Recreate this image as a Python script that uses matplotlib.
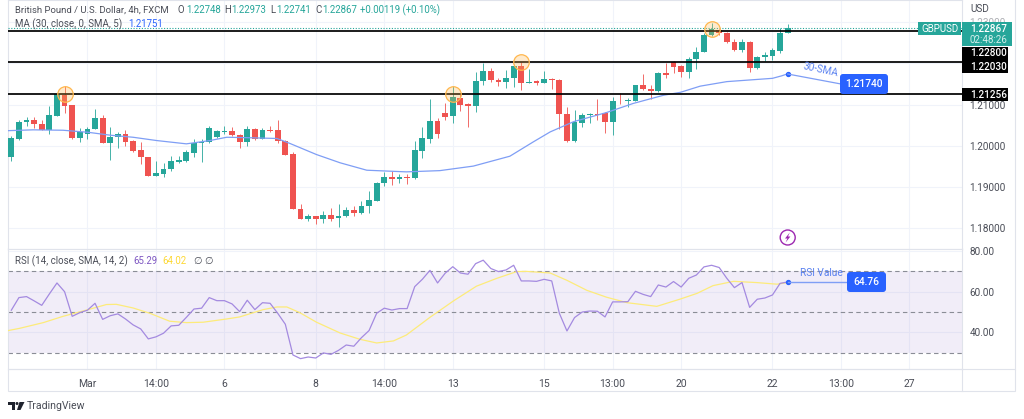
import matplotlib
matplotlib.use('Agg')
import matplotlib.pyplot as plt
from matplotlib.patches import Circle, FancyBboxPatch, Rectangle, Polygon

plt.rcParams['font.family'] = ['Roboto', 'DejaVu Sans']

opens = [1.1972, 1.2017, 1.2057, 1.2062, 1.2052, 1.2039, 1.2073, 1.2123, 1.2099, 1.2019, 1.2030, 1.2041, 1.2068, 1.2007, 1.2021,
         1.2028, 1.2011, 1.1989, 1.1973, 1.1928, 1.1933, 1.1943, 1.1962, 1.1964, 1.1983, 1.2008, 1.2009, 1.2021, 1.2034, 1.2035,
         1.2027, 1.2009, 1.2041, 1.2017, 1.2038, 1.2038, 1.2012, 1.1981, 1.1848, 1.1823, 1.1830, 1.1822, 1.1833, 1.1824, 1.1830,
         1.1844, 1.1836, 1.1854, 1.1867, 1.1911, 1.1924, 1.1920, 1.1924, 1.1923, 1.1988, 1.2017, 1.2060, 1.2080, 1.2072, 1.2117,
         1.2101, 1.2097, 1.2157, 1.2181, 1.2161, 1.2155, 1.2165, 1.2193, 1.2153, 1.2157, 1.2153, 1.2163, 1.2160, 1.2077, 1.2011,
         1.2056, 1.2074, 1.2077, 1.2079, 1.2058, 1.2110, 1.2110, 1.2110, 1.2148, 1.2138, 1.2134, 1.2178, 1.2203, 1.2194, 1.2180,
         1.2211, 1.2229, 1.2268, 1.2281, 1.2275, 1.2253, 1.2232, 1.2252, 1.2189, 1.2215, 1.2219, 1.2230, 1.2274]
closes = [1.2018, 1.2059, 1.2063, 1.2052, 1.2039, 1.2074, 1.2125, 1.2098, 1.2019, 1.2033, 1.2041, 1.2068, 1.2008, 1.2021, 1.2028,
          1.2009, 1.1988, 1.1972, 1.1928, 1.1934, 1.1944, 1.1963, 1.1965, 1.1984, 1.2007, 1.2009, 1.2043, 1.2036, 1.2036, 1.2027,
          1.2009, 1.2041, 1.2017, 1.2038, 1.2035, 1.2011, 1.1979, 1.1848, 1.1823, 1.1830, 1.1822, 1.1833, 1.1823, 1.1831, 1.1844,
          1.1836, 1.1855, 1.1869, 1.1911, 1.1924, 1.1920, 1.1924, 1.1923, 1.1989, 1.2018, 1.2060, 1.2030, 1.2071, 1.2118, 1.2099,
          1.2098, 1.2157, 1.2181, 1.2160, 1.2156, 1.2165, 1.2193, 1.2153, 1.2155, 1.2153, 1.2163, 1.2160, 1.2077, 1.2011, 1.2057,
          1.2074, 1.2077, 1.2075, 1.2058, 1.2110, 1.2108, 1.2112, 1.2148, 1.2137, 1.2134, 1.2178, 1.2172, 1.2192, 1.2180, 1.2212,
          1.2229, 1.2269, 1.2283, 1.2275, 1.2251, 1.2233, 1.2251, 1.2190, 1.2216, 1.2220, 1.2232, 1.2275, 1.2287]
highs = [1.2024, 1.2063, 1.2069, 1.2069, 1.2062, 1.2098, 1.2125, 1.2145, 1.2100, 1.2043, 1.2047, 1.2089, 1.2074, 1.2045, 1.2034,
         1.2038, 1.2014, 1.2010, 1.1974, 1.1963, 1.1958, 1.1975, 1.1975, 1.1990, 1.2017, 1.2016, 1.2049, 1.2038, 1.2049, 1.2045,
         1.2030, 1.2049, 1.2043, 1.2043, 1.2049, 1.2064, 1.2014, 1.1986, 1.1858, 1.1835, 1.1831, 1.1842, 1.1849, 1.1859, 1.1851,
         1.1855, 1.1866, 1.1890, 1.1913, 1.1937, 1.1940, 1.1933, 1.1933, 1.2011, 1.2047, 1.2114, 1.2067, 1.2104, 1.2145, 1.2127,
         1.2104, 1.2180, 1.2202, 1.2188, 1.2164, 1.2184, 1.2199, 1.2203, 1.2186, 1.2160, 1.2182, 1.2164, 1.2162, 1.2094, 1.2087,
         1.2081, 1.2081, 1.2114, 1.2082, 1.2119, 1.2129, 1.2117, 1.2149, 1.2175, 1.2148, 1.2179, 1.2200, 1.2205, 1.2196, 1.2215,
         1.2241, 1.2273, 1.2299, 1.2283, 1.2276, 1.2259, 1.2259, 1.2254, 1.2219, 1.2228, 1.2238, 1.2285, 1.2297]
lows = [1.1964, 1.2014, 1.2048, 1.2043, 1.2038, 1.2029, 1.2073, 1.2081, 1.2016, 1.2010, 1.2017, 1.2040, 1.2008, 1.1966, 1.1994,
        1.2000, 1.1986, 1.1957, 1.1927, 1.1927, 1.1925, 1.1940, 1.1959, 1.1962, 1.1974, 1.1962, 1.2008, 1.2019, 1.2028, 1.2024,
        1.1994, 1.1999, 1.2014, 1.2016, 1.2033, 1.2006, 1.1977, 1.1847, 1.1822, 1.1817, 1.1811, 1.1813, 1.1818, 1.1804, 1.1827,
        1.1831, 1.1835, 1.1838, 1.1866, 1.1903, 1.1904, 1.1911, 1.1908, 1.1920, 1.1971, 1.2008, 1.2020, 1.2064, 1.2056, 1.2085,
        1.2047, 1.2083, 1.2147, 1.2155, 1.2145, 1.2141, 1.2142, 1.2136, 1.2152, 1.2147, 1.2152, 1.2139, 1.2042, 1.2010, 1.2010,
        1.2047, 1.2055, 1.2063, 1.2032, 1.2026, 1.2102, 1.2095, 1.2108, 1.2136, 1.2114, 1.2132, 1.2166, 1.2178, 1.2168, 1.2166,
        1.2187, 1.2228, 1.2267, 1.2269, 1.2249, 1.2231, 1.2229, 1.2180, 1.2187, 1.2207, 1.2208, 1.2225, 1.2273]

sma_idx = [-0.4, 2.9, 6.8, 10.1, 13, 16, 19.1, 23, 26.1, 28.3, 30.9, 34.9, 36.6, 40.1, 43.2, 46.7, 51.9, 56.3, 60.7, 65.5,
           68.6, 70.8, 73.9, 78.2, 81.7, 85.7, 87.9, 90.5, 94, 100, 101.2, 102]
sma_vals = [1.2037, 1.2039, 1.2038, 1.2033, 1.2026, 1.2021, 1.2013, 1.2005, 1.2013, 1.2021, 1.2020, 1.2018, 1.2006, 1.1979,
            1.1959, 1.1941, 1.1937, 1.1940, 1.1951, 1.1975, 1.2010, 1.2034, 1.2059, 1.2081, 1.2103, 1.2123, 1.2130, 1.2145,
            1.2156, 1.2164, 1.2170, 1.2175]

rsi_vals = [50.9, 57.1, 57.6, 55.5, 53.3, 58.9, 64.3, 60.0, 47.9, 49.7, 50.9, 54.3, 46.4, 48.2, 49.1, 46.6, 43.7, 41.7, 36.8,
            37.8, 39.6, 43.2, 43.5, 47.4, 51.5, 51.9, 57.1, 55.6, 55.6, 54.0, 50.2, 55.8, 51.2, 54.6, 54.3, 49.4, 44.0, 28.9,
            27.1, 27.9, 27.4, 29.9, 29.2, 31.2, 33.8, 33.2, 37.4, 40.9, 49.4, 51.9, 51.0, 51.7, 51.7, 62.5, 66.1, 70.5, 64.3,
            69.1, 72.3, 69.2, 68.6, 73.8, 75.5, 71.4, 69.9, 70.7, 73.0, 65.3, 65.3, 65.1, 66.1, 65.3, 49.4, 40.7, 47.3, 50.0,
            50.5, 50.4, 47.6, 55.0, 55.0, 55.1, 60.2, 58.7, 57.6, 63.3, 62.3, 65.0, 62.3, 66.6, 68.2, 72.2, 73.0, 71.9, 66.6,
            62.0, 64.5, 52.3, 56.3, 56.9, 58.4, 64.1, 64.8]
rsi_ma_idx = [-0.4, 1.1, 4.2, 6.8, 9.9, 12.5, 13.8, 16, 18.2, 20.8, 23, 25.2, 28.3, 30, 33.1, 34.9, 36.2, 37.9, 40.1, 43.2,
              45.8, 48, 50.2, 51.9, 55, 58.1, 61.1, 63.8, 66.4, 67.7, 70.8, 73, 75.6, 78.2, 80.9, 84.8, 87.9, 90.1, 92.2,
              94.9, 97.9, 100.6, 102]
rsi_ma_vals = [40.9, 42.0, 44.8, 47.9, 51.0, 53.7, 53.8, 52.0, 49.4, 45.5, 44.8, 45.0, 46.6, 47.6, 51.2, 52.5, 52.5, 49.7,
               45.0, 39.7, 36.6, 34.8, 35.8, 38.7, 47.4, 55.5, 62.7, 66.6, 69.9, 70.0, 69.2, 65.6, 60.7, 57.3, 54.6, 52.8,
               56.4, 59.2, 63.0, 65.1, 64.5, 63.7, 64.5]

levels = [1.22800, 1.22030, 1.21256]
touch_idx = [7.06, 58.03, 66.98, 92.0]
touch_price = [1.2126, 1.2126, 1.2203, 1.2284]
last_price = 1.22867
price_ticks = [1.18, 1.19, 1.20, 1.21, 1.22, 1.23]
price_labels = ['1.18000', '1.19000', '1.20000', '1.21000', '', '1.23000']
rsi_ticks = [40, 60, 80]
rsi_bands = [70, 50, 30]
time_idx = [10, 19, 28, 40, 49, 58, 70, 79, 88, 100, 109, 118]
time_labels = ['Mar', '14:00', '6', '8', '14:00', '13', '15', '13:00', '20', '22', '13:00', '27']

GREEN = '#26a69a'
RED = '#ef5350'
BLUE = '#2962ff'
LINE_BLUE = '#7f9ef5'
GRID = '#f0f3fa'
BORDER = '#e0e3eb'
TXT = '#4a4d57'
W, H = 1024, 419


def pane(left, top, right, bottom):
    return fig.add_axes([left / W, 1 - bottom / H, (right - left) / W, (bottom - top) / H])


fig = plt.figure(figsize=(W / 100, H / 100), dpi=100, facecolor='white')
ax = pane(8, 0, 962, 249)
ax_rsi = pane(8, 249, 962, 369)
xlim = (-0.434, 124.9)

for a in (ax, ax_rsi):
    a.set_xlim(*xlim)
    a.set_xticks(time_idx)
    a.grid(True, color=GRID, lw=0.8)
    a.set_axisbelow(True)
    a.yaxis.tick_right()
    a.tick_params(length=0, labelsize=7.2, labelcolor=TXT, pad=5.5)
    for s in a.spines.values():
        s.set_color(BORDER)
        s.set_linewidth(0.8)

# candles
ax.set_ylim(1.17498, 1.23541)
ax.set_yticks(price_ticks)
ax.set_yticklabels(price_labels)
ax.get_yticklabels()[-1].set_alpha(0.45)
ax.tick_params(labelbottom=False)
for i in range(len(opens)):
    col = GREEN if closes[i] >= opens[i] else RED
    ax.vlines(i, lows[i], highs[i], color=col, lw=0.6, zorder=3)
    ax.bar(i, abs(closes[i] - opens[i]), bottom=min(opens[i], closes[i]), width=0.76, color=col, zorder=4)

ax.plot(sma_idx, sma_vals, color=LINE_BLUE, lw=0.9, zorder=5)
ax.hlines(levels, xlim[0], xlim[1], color='black', lw=1.25, zorder=6)
ax.axhline(last_price, color=GREEN, lw=0.8, ls=(0, (1, 1.5)), zorder=6)
ax.scatter(touch_idx, touch_price, s=125, facecolor='#ffb74d48', edgecolor='#ffb74d', lw=0.9, zorder=7)
ax.scatter([102], [sma_vals[-1]], s=8, color=BLUE, zorder=8)

# rsi pane
ax_rsi.set_ylim(22.0, 81.0)
ax_rsi.set_yticks(rsi_ticks)
ax_rsi.set_yticklabels(['%.2f' % v for v in rsi_ticks])
ax_rsi.set_xticklabels(time_labels)
ax_rsi.tick_params(axis='x', pad=7, labelsize=7.5)
ax_rsi.axhspan(rsi_bands[2], rsi_bands[0], color='#7e57c2', alpha=0.1, lw=0)
ax_rsi.hlines(rsi_bands, xlim[0], xlim[1], color='#8a8d96', lw=0.8, ls=(0, (4, 3)))
ax_rsi.plot(rsi_ma_idx, rsi_ma_vals, color='#fdeb7a', lw=0.9, zorder=4)
ax_rsi.plot(range(len(rsi_vals)), rsi_vals, color='#a48ae0', lw=0.9, zorder=5)
ax_rsi.scatter([102], [rsi_vals[-1]], s=8, color=BLUE, zorder=6)

# overlay for labels, in pixels
ov = fig.add_axes([0, 0, 1, 1], facecolor='none')
ov.set_xlim(0, W)
ov.set_ylim(H, 0)
ov.axis('off')
ov.add_patch(Rectangle((8, 369), 1007, 22, fc='none', ec=BORDER, lw=0.8))
ov.plot([1015, 1015], [0, 369], color=BORDER, lw=0.8)
ov.plot([962, 962], [369, 391], color=BORDER, lw=0.8)

ov.text(15, 10, 'British Pound / U.S. Dollar, 4h, FXCM', color=TXT, fontsize=6.8, va='center')
hdr = [(178, 'O', TXT), (186, '1.22748', GREEN), (224, 'H', TXT), (231, '1.22973', GREEN), (270, 'L', TXT),
       (276, '1.22741', GREEN), (315, 'C', TXT), (322, '1.22867', GREEN), (360, '+0.00119 (+0.10%)', GREEN)]
for x, s, c in hdr:
    ov.text(x, 10, s, color=c, fontsize=6.9, va='center')
ov.text(15, 24, 'MA (30, close, 0, SMA, 5)', color=TXT, fontsize=7.0, va='center')
ov.text(128, 24, '1.21751', color=BLUE, fontsize=6.9, va='center')
ov.text(15, 261, 'RSI (14, close, SMA, 14, 2)', color=TXT, fontsize=7.0, va='center')
ov.text(133, 261, '65.29', color='#7e57c2', fontsize=6.9, va='center')
ov.text(162, 261, '64.02', color='#fdd835', fontsize=6.9, va='center')
ov.text(193, 261, '\u2205', color=TXT, fontsize=7, va='center', family='DejaVu Sans')
ov.text(204, 261, '\u2205', color=TXT, fontsize=7, va='center', family='DejaVu Sans')
ov.text(970, 9, 'USD', color=TXT, fontsize=7.2, va='center')

# price labels on the right
ov.add_patch(Rectangle((918, 22), 43, 13, fc=GREEN, ec='none', zorder=5))
ov.text(939.5, 29, 'GBPUSD', color='white', fontsize=7.0, ha='center', va='center', zorder=6)
ov.add_patch(Rectangle((962, 22), 50, 24, fc=GREEN, ec='none', zorder=5))
ov.text(970, 29, '1.22867', color='white', fontsize=7.2, va='center', fontweight='medium', zorder=6)
ov.text(970, 40, '02:48:26', color='#d5efec', fontsize=7.0, va='center', zorder=6)
for y0, y1, s in [(47, 60, '1.22800'), (60, 73, '1.22030'), (88, 101, '1.21256')]:
    ov.add_patch(Rectangle((962, y0), 46, y1 - y0, fc='black', ec='none', zorder=5))
    ov.text(970, (y0 + y1) / 2, s, color='white', fontsize=7.2, va='center', fontweight='medium', zorder=6)

# callouts
ov.plot([787.7, 841], [74, 84], color=LINE_BLUE, lw=0.9, zorder=4)
ov.text(821, 70, '30-SMA', color='#5b82f0', fontsize=7.3, rotation=-12, ha='center', va='center')
ov.add_patch(FancyBboxPatch((842, 76), 44, 16, boxstyle='round,pad=2,rounding_size=3', fc=BLUE, ec='none', zorder=5))
ov.text(864, 84, '1.21740', color='white', fontsize=7.4, fontweight='medium', ha='center', va='center', zorder=6)
ov.plot([787.7, 848], [282, 282], color=LINE_BLUE, lw=1.0, zorder=4)
ov.text(821, 273, 'RSI Value', color='#5b82f0', fontsize=7.3, ha='center', va='center')
ov.add_patch(FancyBboxPatch((849, 274), 35, 16, boxstyle='round,pad=2,rounding_size=3', fc=BLUE, ec='none', zorder=5))
ov.text(866.5, 282, '64.76', color='white', fontsize=7.4, fontweight='medium', ha='center', va='center', zorder=6)

# lightning badge
ov.add_patch(Circle((787.7, 237.5), 7.5, fc='white', ec='#9c27b0', lw=1.0, zorder=6))
ov.add_patch(Polygon([(789.8, 232.5), (785, 238.5), (787.4, 238.5), (785.6, 242.5), (790.4, 236.5), (788, 236.5)],
                     fc='#9c27b0', ec='none', zorder=7))

# footer logo
ov.add_patch(Polygon([(8, 402), (15, 402), (15, 410), (12, 410), (12, 405), (8, 405)], fc='#1e222d', ec='none'))
ov.add_patch(Circle((17, 403.5), 1.5, fc='#1e222d', ec='none'))
ov.add_patch(Polygon([(19.5, 402), (24.5, 402), (20.5, 410), (17, 410)], fc='#1e222d', ec='none'))
ov.text(27, 406, 'TradingView', color='#4a4d57', fontsize=7.6, va='center')

fig.savefig('out.png', dpi=100)
